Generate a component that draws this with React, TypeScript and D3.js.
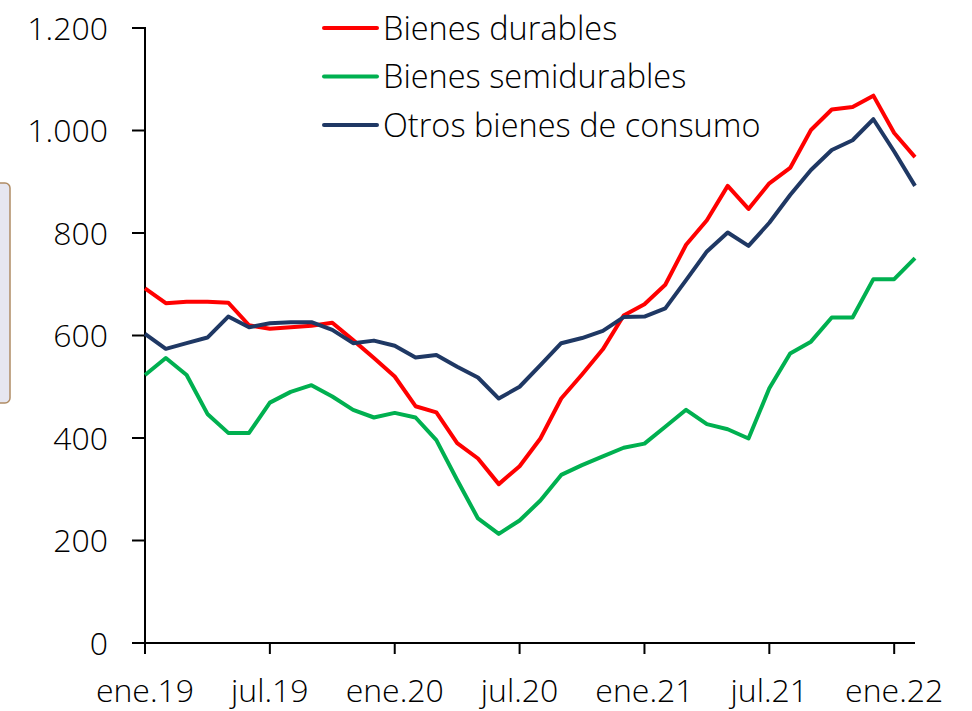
import React from "react";
import * as d3 from "d3";

const months: string[] = [
  "ene.19","feb.19","mar.19","abr.19","may.19","jun.19","jul.19","ago.19","sep.19","oct.19","nov.19","dic.19",
  "ene.20","feb.20","mar.20","abr.20","may.20","jun.20","jul.20","ago.20","sep.20","oct.20","nov.20","dic.20",
  "ene.21","feb.21","mar.21","abr.21","may.21","jun.21","jul.21","ago.21","sep.21","oct.21","nov.21","dic.21",
  "ene.22","feb.22",
];

const durables: number[] = [
  692, 663, 666, 666, 664, 620, 613, 616, 619, 625, 591, 556,
  520, 462, 450, 390, 360, 310, 345, 399, 477, 524, 573, 639,
  661, 699, 777, 825, 892, 847, 897, 927, 1001, 1041, 1046, 1068,
  995, 948,
];

const semidurables: number[] = [
  523, 556, 523, 447, 410, 410, 469, 490, 503, 481, 455, 440,
  449, 440, 396, 318, 243, 213, 239, 278, 328, 347, 364, 381,
  389, 422, 455, 427, 417, 399, 497, 565, 588, 635, 635, 710,
  710, 751,
];

const otros: number[] = [
  603, 574, 585, 596, 637, 616, 624, 626, 626, 611, 585, 590,
  580, 557, 562, 539, 518, 477, 500, 542, 585, 595, 609, 636,
  637, 653, 708, 764, 801, 775, 820, 874, 923, 962, 981, 1022,
  959, 892,
];

const yTicks: number[] = [0, 200, 400, 600, 800, 1000, 1200];
const xTickLabels: string[] = ["ene.19", "jul.19", "ene.20", "jul.20", "ene.21", "jul.21", "ene.22"];

const seriesNames: string[] = ["Bienes durables", "Bienes semidurables", "Otros bienes de consumo"];
const seriesColors: string[] = ["#ff0000", "#00b050", "#1f3864"];

const FONT = "'Open Sans', 'Noto Sans', sans-serif";

export default function App() {
  const W = 972, H = 711;
  const left = 145, right = 915, top = 28, bottom = 643;
  const x = d3.scaleLinear().domain([0, months.length - 1]).range([left, right]);
  const y = d3.scaleLinear().domain([0, 1200]).range([bottom, top]);
  const line = d3
    .line<number>()
    .x((_, i) => x(i))
    .y((d) => y(d));
  const series = [durables, semidurables, otros];
  const fmt = (v: number) => d3.format(",")(v).replace(/,/g, ".");

  return (
    <svg
      width={W}
      height={H}
      style={{ position: "absolute", left: 0, top: 0, background: "#fff" }}
      fontFamily={FONT}
      fontWeight={350}
    >
      <rect x={-20} y={183} width={30} height={220} rx={5} ry={5} fill="#e6e6f0" stroke="#b08c64" strokeWidth={1.5} />

      {/* y axis */}
      <line x1={left} x2={left} y1={top - 1} y2={bottom} stroke="#000" strokeWidth={2} />
      {yTicks.map((t) => (
        <g key={t}>
          <line x1={left - 13} x2={left} y1={y(t)} y2={y(t)} stroke="#000" strokeWidth={2} />
          <text x={108} y={y(t)} dy="0.36em" textAnchor="end" fontSize={32} fill="#000">
            {fmt(t)}
          </text>
        </g>
      ))}

      {/* x axis */}
      <line x1={left - 13} x2={right} y1={bottom} y2={bottom} stroke="#000" strokeWidth={2} />
      {xTickLabels.map((lab) => {
        const i = months.indexOf(lab);
        return (
          <g key={lab}>
            <line x1={x(i)} x2={x(i)} y1={bottom} y2={bottom + 11} stroke="#000" strokeWidth={2} />
            <text x={x(i)} y={702} textAnchor="middle" fontSize={32} fill="#000">
              {lab}
            </text>
          </g>
        );
      })}

      {/* lines */}
      {series.map((s, k) => (
        <path
          key={k}
          d={line(s) || ""}
          fill="none"
          stroke={seriesColors[k]}
          strokeWidth={4}
          strokeLinejoin="round"
          strokeLinecap="butt"
        />
      ))}

      {/* legend */}
      {seriesNames.map((n, k) => (
        <g key={n} transform={`translate(324, ${28 + k * 48.5})`}>
          <line x1={0} x2={53} y1={0} y2={0} stroke={seriesColors[k]} strokeWidth={4} strokeLinecap="round" />
          <text x={59} y={0} dy="0.36em" fontSize={32.5} fill="#000">
            {n}
          </text>
        </g>
      ))}
    </svg>
  );
}
